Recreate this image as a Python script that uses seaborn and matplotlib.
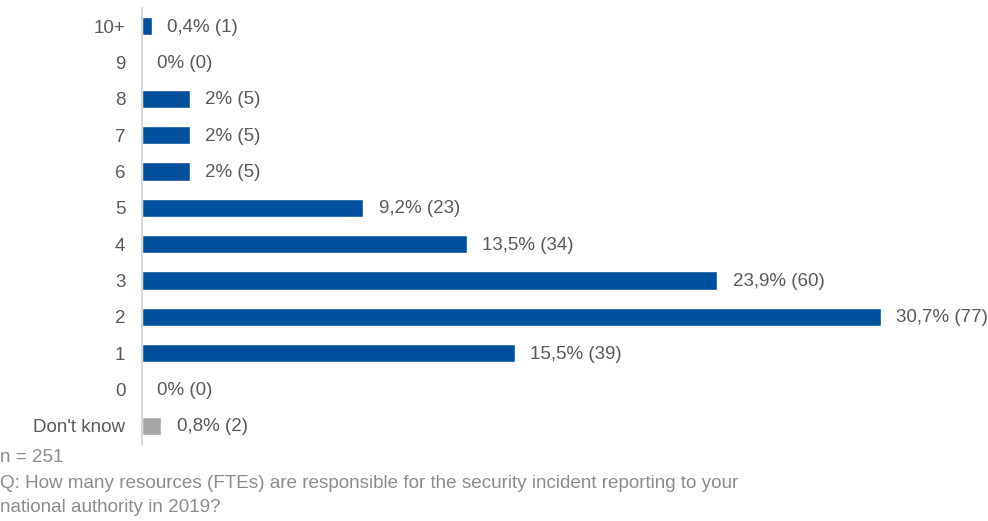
import matplotlib
matplotlib.use("Agg")
import matplotlib.pyplot as plt
import seaborn as sns
import pandas as pd

categories = ["10+", "9", "8", "7", "6", "5", "4", "3", "2", "1", "0", "Don't know"]
percentages = [0.4, 0.0, 2.0, 2.0, 2.0, 9.2, 13.5, 23.9, 30.7, 15.5, 0.0, 0.8]
counts = [1, 0, 5, 5, 5, 23, 34, 60, 77, 39, 0, 2]
pct_text = ["0,4%", "0%", "2%", "2%", "2%", "9,2%", "13,5%", "23,9%", "30,7%", "15,5%", "0%", "0,8%"]
groups = ["known"] * 11 + ["unknown"]

sns.set_theme(style="white")
plt.rcParams["font.family"] = ["Liberation Sans", "DejaVu Sans"]

df = pd.DataFrame({"cat": categories, "pct": percentages, "grp": groups})

fig = plt.figure(figsize=(9.88, 5.21), dpi=100)
ax = fig.add_axes([142 / 988, 1 - 444 / 521, 846 / 988, 436 / 521])

sns.barplot(data=df, x="pct", y="cat", hue="grp", order=categories,
            palette={"known": "#00509E", "unknown": "#A6A6A6"},
            dodge=False, width=0.5, legend=False, ax=ax, orient="h",
            saturation=1)

ax.set_xlim(0, 846 / 24.07)
ax.set_ylim(len(categories) - 0.5, -0.5)
ax.set_xlabel("")
ax.set_ylabel("")
ax.set_xticks([])
for s in ["top", "right", "bottom"]:
    ax.spines[s].set_visible(False)
ax.spines["left"].set_color("#D9D9D9")
ax.spines["left"].set_linewidth(1.5)
ax.tick_params(axis="y", length=0, pad=12, labelsize=13.5, labelcolor="#595959")

for i, (p, c, t) in enumerate(zip(percentages, counts, pct_text)):
    ax.annotate(f"{t} ({c})", xy=(p, i), xytext=(11, -0.8), textcoords="offset points",
                va="center", ha="left", fontsize=13.5, color="#595959")

foot_color = "#8C8C8C"
fig.text(0 / 988, 1 - 458 / 521, "n = 251", fontsize=13.6, color=foot_color, va="center", ha="left")
fig.text(0 / 988, 1 - 483 / 521,
         "Q: How many resources (FTEs) are responsible for the security incident reporting to your",
         fontsize=13.6, color=foot_color, va="center", ha="left")
fig.text(0 / 988, 1 - 508 / 521, "national authority in 2019?",
         fontsize=13.6, color=foot_color, va="center", ha="left")

fig.savefig("out.png", dpi=100)
